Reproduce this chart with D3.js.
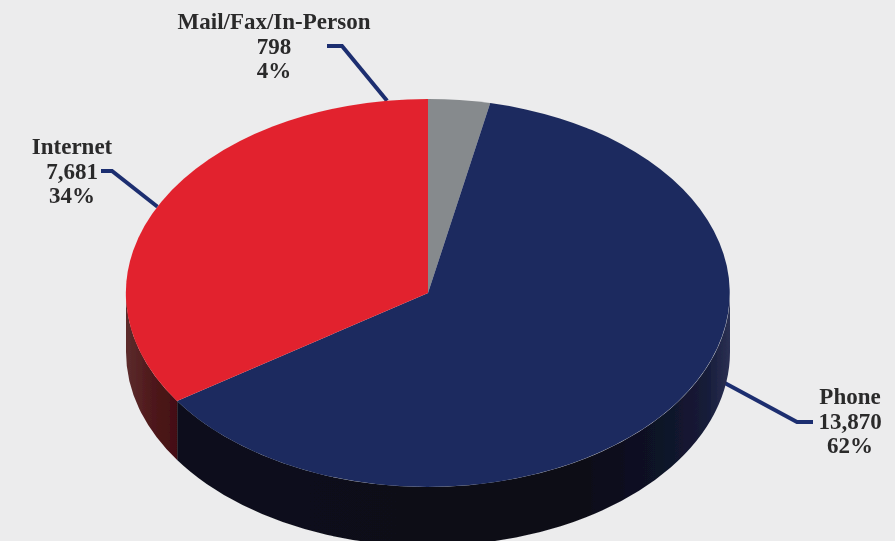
<!DOCTYPE html>
<html>
<head>
<meta charset="utf-8">
<script src="https://cdn.jsdelivr.net/npm/d3@7"></script>
<style>
    html, body { margin: 0; padding: 0; background: #ececed; }
    svg { display: block; }
    text { font-family: "Liberation Serif", serif; font-weight: bold; font-size: 23px; fill: #2b2a2b; text-anchor: middle; }
</style>
</head>
<body>
<svg></svg>
<script>
// Slices clockwise from the top of the pie.
var categories = ['Mail/Fax/In-Person', 'Phone', 'Internet'];
var counts = [798, 13870, 7681];
var shareLabels = ['4%', '62%', '34%'];
var colors = ['#868a8d', '#1f2c5e', '#e2232e'];

// Shares as drawn in the picture (percent); the grey wedge is a bit
// narrower than its count says.
var drawnShares = [3.3, 62.3, 34.4];

var width = 895;
var height = 541;

// The tilted pie: an ellipse plus a wall below it.
var cx = 428;
var cy = 293;
var rx = 302;
var ry = 194;
var depth = 59;

var svg = d3.select('svg')
    .attr('width', width)
    .attr('height', height)
;

svg.append('rect')
    .attr('width', width)
    .attr('height', height)
    .attr('fill', '#ececed')
;

var defs = svg.append('defs');

function addGradient(id, stops) {
    var gradient = defs.append('linearGradient')
        .attr('id', id)
        .attr('gradientUnits', 'userSpaceOnUse')
        .attr('x1', cx - rx)
        .attr('x2', cx + rx)
        .attr('y1', 0)
        .attr('y2', 0)
    ;
    stops.forEach(function(s) {
        gradient.append('stop').attr('offset', s[0]).attr('stop-color', s[1]);
    });
}

addGradient('wall-red', [[0, '#5c2c2c'], [0.04, '#4f1a1c'], [0.09, '#420d10'], [1, '#420d10']]);
addGradient('wall-navy', [[0, '#0e111c'], [0.75, '#0d0d17'], [0.88, '#0f1226'], [0.96, '#151b38'], [1, '#2b3053']]);

// The source picture is slightly soft.
defs.append('filter')
    .attr('id', 'soften')
    .append('feGaussianBlur')
    .attr('stdDeviation', 0.5)
;

var chart = svg.append('g')
    .attr('filter', 'url(#soften)')
;

var pie = d3.pie().sort(null).value(function(d) { return d; });
var slices = pie(drawnShares);

// Point on the rim for a pie angle (0 at the top, clockwise).
function rim(angle, drop) {
    return [cx + rx * Math.sin(angle), cy - ry * Math.cos(angle) + (drop || 0)];
}

// Leader lines go under the pie, so their far ends just disappear behind it.
var leaderAngles = [-0.136, 1.85, -1.11];
var leaderDrops = [0, 33, 0];
var leaderElbows = [[342, 46], [797, 422], [112, 171]];
var leaderEnds = [[327, 46], [813, 422], [101, 171]];

var line = d3.line();

chart.selectAll('.leader')
    .data(categories)
    .enter()
    .append('path')
    .classed('leader', true)
    .attr('d', function(d, i) {
        return line([leaderEnds[i], leaderElbows[i], rim(leaderAngles[i], leaderDrops[i])]);
    })
    .attr('fill', 'none')
    .attr('stroke', '#1f2f70')
    .attr('stroke-width', 4)
;

// Wall for the part of a slice that faces the viewer (angles pi/2 to 3pi/2).
function wallPath(d) {
    var a0 = Math.max(d.startAngle, Math.PI / 2);
    var a1 = Math.min(d.endAngle, 3 * Math.PI / 2);
    if (a1 <= a0) return null;
    var p0 = rim(a0), p1 = rim(a1);
    var large = (a1 - a0) > Math.PI ? 1 : 0;
    var path = 'M' + p0 + 'A' + rx + ',' + ry + ' 0 ' + large + ' 1 ' + p1;
    path += 'L' + rim(a1, depth);
    path += 'A' + rx + ',' + ry + ' 0 ' + large + ' 0 ' + rim(a0, depth) + 'Z';
    return path;
}

var wallFills = [null, 'url(#wall-navy)', 'url(#wall-red)'];

chart.selectAll('.wall')
    .data(slices)
    .enter()
    .append('path')
    .classed('wall', true)
    .attr('d', wallPath)
    .attr('fill', function(d, i) { return wallFills[i]; })
;

// d3.arc on a unit circle, stretched into the ellipse.
var arc = d3.arc().innerRadius(0).outerRadius(1);

chart.selectAll('.slice')
    .data(slices)
    .enter()
    .append('path')
    .classed('slice', true)
    .attr('transform', 'translate(' + cx + ',' + cy + ') scale(' + rx + ',' + ry + ')')
    .attr('d', arc)
    .attr('fill', function(d, i) { return colors[i]; })
;

// Three-line labels.
var labelCenters = [[274, 29], [850, 404], [72, 154]];
var lineHeight = 24.5;
var formatCount = d3.format(',');

var labels = chart.selectAll('.label')
    .data(categories)
    .enter()
    .append('text')
    .classed('label', true)
    .attr('transform', function(d, i) {
        return 'translate(' + labelCenters[i] + ')';
    })
;

labels.append('tspan').attr('x', 0).attr('y', 0).text(function(d) { return d; });
labels.append('tspan').attr('x', 0).attr('y', lineHeight).text(function(d, i) { return formatCount(counts[i]); });
labels.append('tspan').attr('x', 0).attr('y', 2 * lineHeight).text(function(d, i) { return shareLabels[i]; });
</script>
</body>
</html>
